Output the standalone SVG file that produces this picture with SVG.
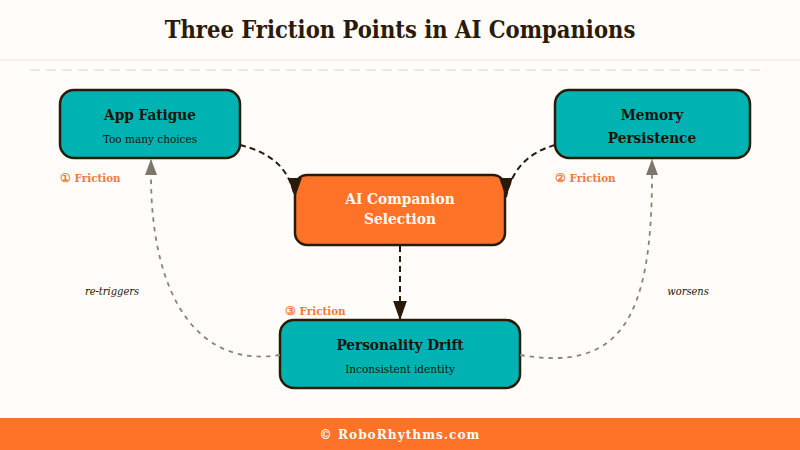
<svg xmlns="http://www.w3.org/2000/svg" width="800" height="450" viewBox="0 0 800 450">
<style>
text{font-family:"DejaVu Serif Condensed","DejaVu Serif",serif;text-anchor:middle}
.h{font-weight:700;font-size:15.200px;fill:#1a1208}
.s{font-size:11.700px;fill:#1a1208}
.w{font-weight:700;font-size:15.300px;fill:#fffcf8}
.f{font-weight:700;font-size:11.500px;fill:#f47a3c;text-anchor:start}
.e{font-style:italic;font-size:11px;fill:#1a1208}
.n{stroke:#2a1a08;stroke-width:2.5px}
.c1{fill:none;stroke:#2a1a08;stroke-width:2;stroke-dasharray:6 4}
.c2{fill:none;stroke:#8a8378;stroke-width:1.800px;stroke-dasharray:4.500 5}
.t{font-size:23.500px;font-weight:700;fill:#2a1a08}
.b{font-size:13.500px;font-weight:700;fill:#fffcf8;letter-spacing:1px}
</style>
<defs>
<marker id="a" markerUnits="userSpaceOnUse" markerWidth="20" markerHeight="14" refX="19.500" refY="7" orient="90"><path d="M0 0L20 7L0 14Z" fill="#2a1a08"/></marker>
<marker id="b" markerUnits="userSpaceOnUse" markerWidth="16" markerHeight="12" refX="16" refY="6" orient="auto"><path d="M0 0L16 6L0 12Z" fill="#7d766a"/></marker>
</defs>
<rect width="800" height="450" fill="#fffcfa"/>
<g id="header">
<rect x="0" y="59" width="800" height="2" fill="#f5f0e8"/>
<line x1="30" y1="70" x2="767" y2="70" stroke="#efe9dd" stroke-width="2" stroke-dasharray="10 6"/>
<text class="t" x="400" y="38">Three Friction Points in AI Companions</text>
</g>
<g id="app-fatigue">
<rect class="n" x="60" y="90" width="180" height="68" rx="14" fill="#00b3b3"/>
<text class="h" x="150" y="120">App Fatigue</text>
<text class="s" x="150" y="143">Too many choices</text>
</g>
<g id="memory-persistence">
<rect class="n" x="555" y="90" width="195" height="68" rx="14" fill="#00b3b3"/>
<text class="h" x="652" y="120">Memory</text>
<text class="h" x="652" y="143">Persistence</text>
</g>
<g id="ai-companion-selection">
<rect class="n" x="295" y="175" width="210" height="70" rx="12" fill="#ff7328"/>
<text class="w" x="400" y="204">AI Companion</text>
<text class="w" x="400" y="224">Selection</text>
</g>
<g id="personality-drift">
<rect class="n" x="280" y="320" width="240" height="68" rx="14" fill="#00b3b3"/>
<text class="h" x="400" y="350">Personality Drift</text>
<text class="s" x="400" y="373">Inconsistent identity</text>
</g>
<g id="connectors">
<path class="c1" d="M240 145C268 152 288 165 295 197" marker-end="url(#a)"/>
<path class="c1" d="M555 145C530 152 512 168 506 197" marker-end="url(#a)"/>
<path class="c1" d="M400 246V320" marker-end="url(#a)"/>
<path class="c2" d="M280 355C200 368 151 300 151 175 L151 159" marker-end="url(#b)"/>
<path class="c2" d="M520 355C620 372 652 320 652 175 L652 159" marker-end="url(#b)"/>
</g>
<text class="f" x="60" y="182">① Friction</text>
<text class="f" x="555" y="182">② Friction</text>
<text class="f" x="285" y="315">③ Friction</text>
<text class="e" x="112" y="295">re-triggers</text>
<text class="e" x="688" y="295">worsens</text>
<g id="footer">
<rect y="418" width="800" height="32" fill="#ff7328"/>
<text class="b" x="400" y="439">© RoboRhythms.com</text>
</g>
</svg>
